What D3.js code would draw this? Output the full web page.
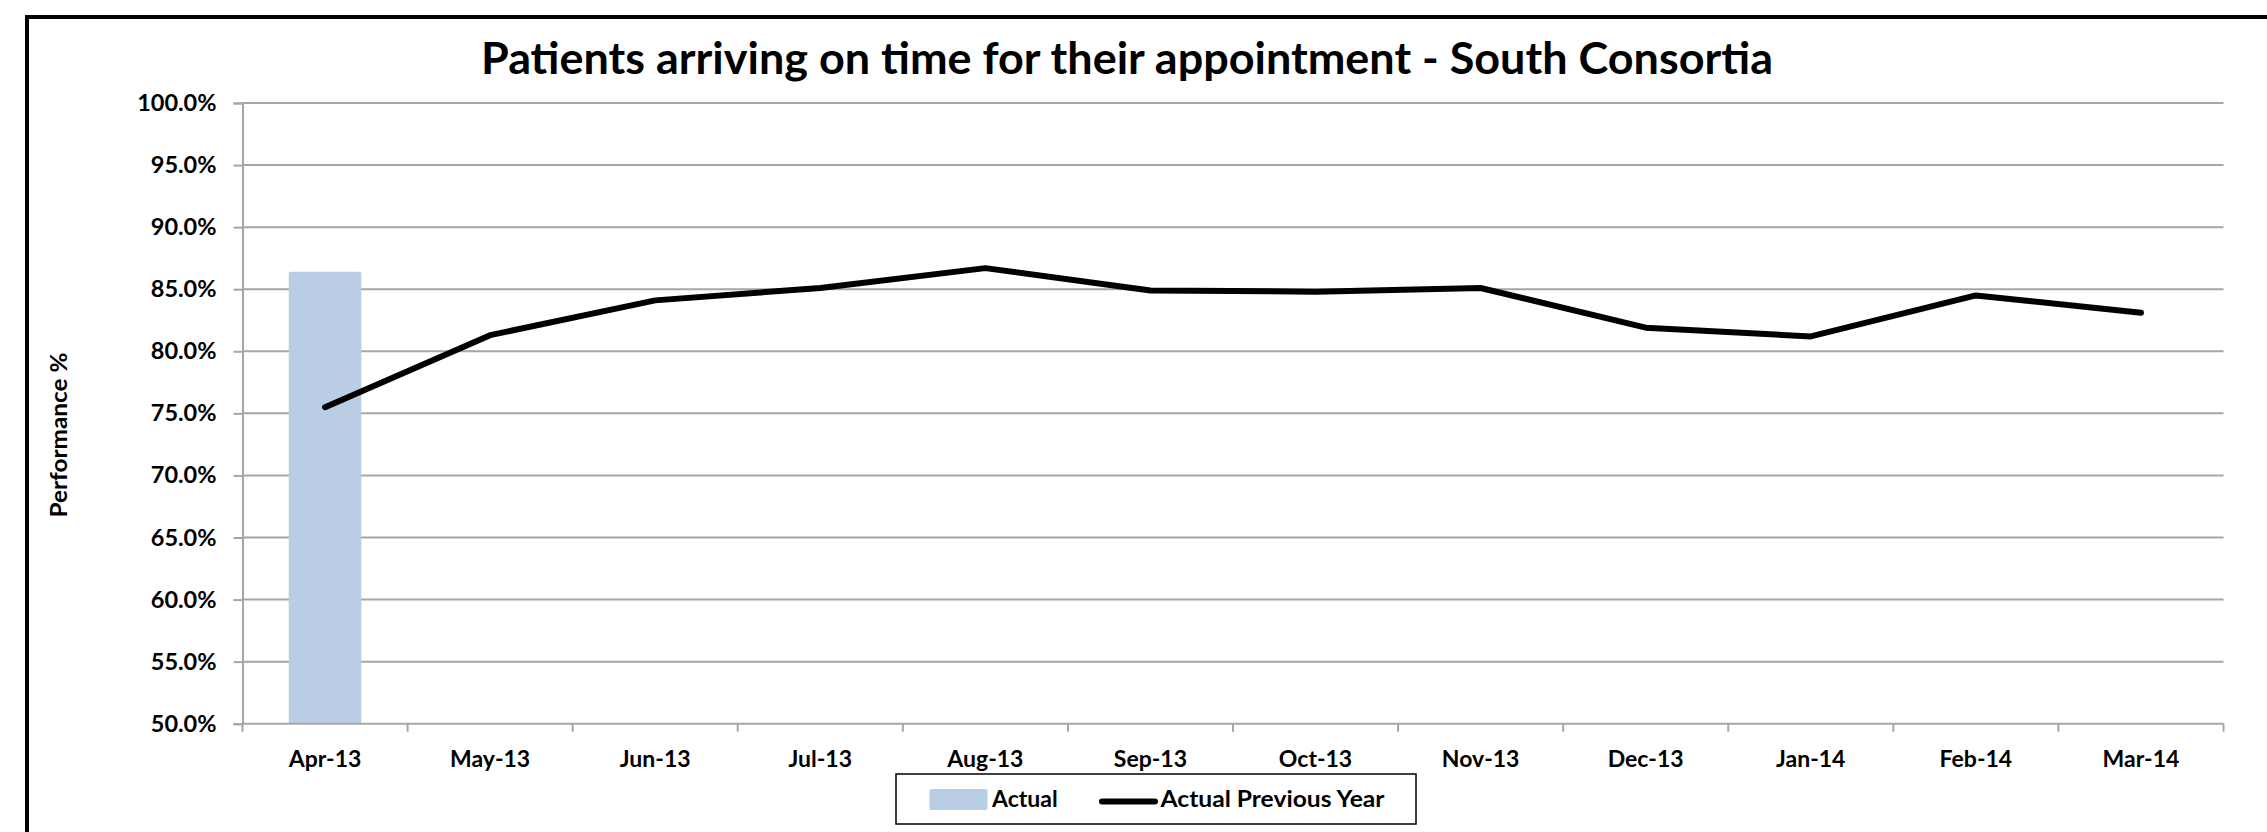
<!DOCTYPE html>
<html>
<head>
<meta charset="utf-8">
<script src="https://cdn.jsdelivr.net/npm/d3@7"></script>
<style>
  html, body { margin: 0; padding: 0; background: #fff; }
  svg { display: block; }
  text { font-family: Lato, "Open Sans", sans-serif; font-weight: bold; fill: #000; }
</style>
</head>
<body>
<svg id="chart" width="2267" height="832"></svg>
<script>
// Monthly categories and series
const months = ["Apr-13", "May-13", "Jun-13", "Jul-13", "Aug-13", "Sep-13",
                "Oct-13", "Nov-13", "Dec-13", "Jan-14", "Feb-14", "Mar-14"];
const actual = [0.864, null, null, null, null, null, null, null, null, null, null, null];
const previousYear = [0.755, 0.813, 0.841, 0.851, 0.867, 0.849,
                      0.848, 0.851, 0.819, 0.812, 0.845, 0.831];
const yTicks = [0.50, 0.55, 0.60, 0.65, 0.70, 0.75, 0.80, 0.85, 0.90, 0.95, 1.00];

const titleText = "Patients arriving on time for their appointment - South Consortia";
const yTitleText = "Performance %";
const legendLabels = ["Actual", "Actual Previous Year"];

const svg = d3.select("#chart");
const W = 2267, H = 832;
const plot = { left: 242.5, right: 2223.5, top: 103, bottom: 723.7 };
const gridColor = "#a6a6a6";
const barColor = "#b9cde5";

// outer chart frame (continues past the right and bottom edges)
svg.append("rect")
  .attr("x", 27).attr("y", 17)
  .attr("width", W + 20).attr("height", H + 20)
  .attr("fill", "#fff").attr("stroke", "#000").attr("stroke-width", 4);

// title
svg.append("text")
  .attr("x", 1127).attr("y", 74)
  .attr("text-anchor", "middle")
  .attr("font-size", 43)
  .attr("textLength", 1292)
  .attr("lengthAdjust", "spacingAndGlyphs")
  .text(titleText);

const x = d3.scaleBand().domain(months).range([plot.left, plot.right]).padding(0);
const xBar = d3.scaleBand().domain(months).range([plot.left, plot.right])
  .paddingInner(0.56).paddingOuter(0.28);
const y = d3.scaleLinear().domain([0.5, 1.0]).range([plot.bottom, plot.top]);

// horizontal gridlines
svg.append("g")
  .selectAll("line")
  .data(yTicks.slice(1))
  .join("line")
  .attr("x1", plot.left).attr("x2", plot.right)
  .attr("y1", d => y(d)).attr("y2", d => y(d))
  .attr("stroke", gridColor).attr("stroke-width", 2);

// y axis
const yAxis = svg.append("g")
  .attr("transform", `translate(${plot.left},0)`)
  .call(d3.axisLeft(y).tickValues(yTicks).tickFormat(d3.format(".1%")).tickSize(9).tickPadding(17));
yAxis.select(".domain").attr("stroke", gridColor).attr("stroke-width", 2);
yAxis.selectAll(".tick line").attr("stroke", gridColor).attr("stroke-width", 2);
yAxis.selectAll(".tick text")
  .attr("font-size", 23.5).attr("font-family", "Lato, sans-serif").attr("font-weight", "bold")
  .attr("fill", "#000");

// bars
svg.append("g")
  .selectAll("rect")
  .data(months.map((m, i) => ({ m, v: actual[i] })).filter(d => d.v != null))
  .join("rect")
  .attr("x", d => xBar(d.m))
  .attr("width", xBar.bandwidth())
  .attr("y", d => y(d.v))
  .attr("height", d => y(0.5) - y(d.v))
  .attr("rx", 2)
  .attr("fill", barColor);

// x axis with tick marks on category boundaries
const xAxisG = svg.append("g");
xAxisG.append("line")
  .attr("x1", plot.left).attr("x2", plot.right)
  .attr("y1", plot.bottom).attr("y2", plot.bottom)
  .attr("stroke", gridColor).attr("stroke-width", 2);
const boundaries = months.map(m => x(m)).concat([x(months[months.length - 1]) + x.bandwidth()]);
xAxisG.selectAll("line.tk")
  .data(boundaries)
  .join("line")
  .attr("class", "tk")
  .attr("x1", d => d).attr("x2", d => d)
  .attr("y1", plot.bottom).attr("y2", plot.bottom + 8)
  .attr("stroke", gridColor).attr("stroke-width", 2);
xAxisG.selectAll("text")
  .data(months)
  .join("text")
  .attr("x", d => x(d) + x.bandwidth() / 2)
  .attr("y", 767)
  .attr("text-anchor", "middle")
  .attr("font-size", 23)
  .text(d => d);

// previous year line
const line = d3.line()
  .x((d, i) => x(months[i]) + x.bandwidth() / 2)
  .y(d => y(d));
svg.append("path")
  .datum(previousYear)
  .attr("d", line)
  .attr("fill", "none")
  .attr("stroke", "#000")
  .attr("stroke-width", 6)
  .attr("stroke-linejoin", "round")
  .attr("stroke-linecap", "round");

// y axis title
svg.append("text")
  .attr("transform", "translate(67,435) rotate(-90)")
  .attr("text-anchor", "middle")
  .attr("font-size", 22.5)
  .attr("textLength", 165)
  .attr("lengthAdjust", "spacingAndGlyphs")
  .text(yTitleText);

// legend
const lg = svg.append("g");
lg.append("rect")
  .attr("x", 896).attr("y", 774).attr("width", 520).attr("height", 50)
  .attr("fill", "#fff").attr("stroke", "#000").attr("stroke-width", 1.5);
lg.append("rect")
  .attr("x", 929.5).attr("y", 789).attr("width", 58).attr("height", 21)
  .attr("rx", 2).attr("fill", barColor);
lg.append("text")
  .attr("x", 992).attr("y", 807)
  .attr("font-size", 23)
  .text(legendLabels[0]);
lg.append("line")
  .attr("x1", 1102).attr("x2", 1155).attr("y1", 801.5).attr("y2", 801.5)
  .attr("stroke", "#000").attr("stroke-width", 6).attr("stroke-linecap", "round");
lg.append("text")
  .attr("x", 1160.5).attr("y", 807)
  .attr("font-size", 23)
  .attr("textLength", 224)
  .attr("lengthAdjust", "spacingAndGlyphs")
  .text(legendLabels[1]);
</script>
</body>
</html>
